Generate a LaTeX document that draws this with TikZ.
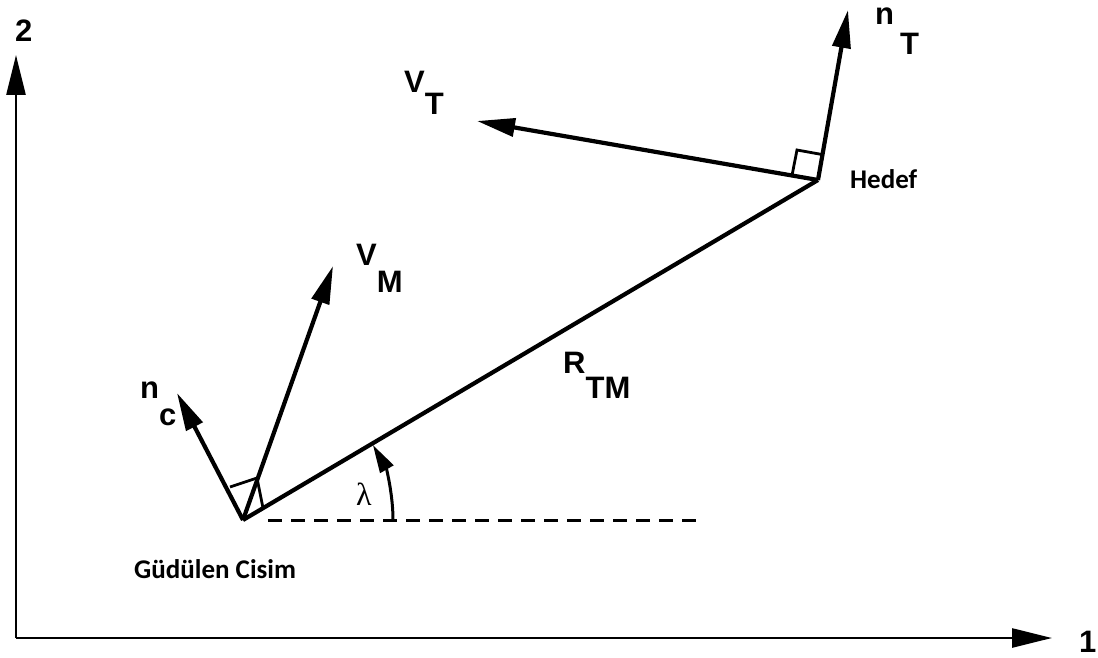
\documentclass[tikz,border=0pt]{standalone}
\usepackage{fontspec}
\setmainfont{Liberation Sans}
\newfontfamily\calib{Carlito}
\newfontfamily\greekserif{Liberation Serif}
\usetikzlibrary{arrows.meta,calc}
\tikzset{
  vec/.style={line width=4.2pt, -{Triangle[length=38pt,width=18pt]}},
  axis/.style={line width=2.6pt, -{Triangle[length=40pt,width=19pt]}},
  lab/.style={anchor=base west, inner sep=0pt, font=\bfseries\fontsize{31}{36}\selectfont},
  place/.style={anchor=base west, inner sep=0pt, font=\calib\bfseries\fontsize{27}{32}\selectfont},
  rightmark/.style={line width=2.8pt},
}
\begin{document}
\begin{tikzpicture}[x=1pt,y=-1pt]
\useasboundingbox[fill=white] (0,0) rectangle (1098,658);
% axes
\coordinate (O) at (16,638);
\coordinate (Y) at (16,55);
\coordinate (X) at (1052,638);
\draw[axis] (O) -- (Y);
\draw[axis] (O) -- (X);
\node[lab] (l2) at (15,42) {2};
\node[lab] (l1) at (1079,652) {1};
% points
\coordinate (M) at (243,520);
\coordinate (T) at (818,180);
\coordinate (nc) at (177,393);
\coordinate (VM) at (333,266);
\coordinate (VT) at (477,121);
\coordinate (nT) at (848,10);
\coordinate (D) at (700,520);
% line of sight
\draw[line width=4.2pt] (M) -- (T);
\draw[line width=3pt, dash pattern=on 14pt off 9pt] ($(M)+(25,0)$) coordinate (Ds) -- (D);
% vectors
\draw[vec] (M) -- (nc);
\draw[vec] (M) -- (VM);
\draw[vec] (T) -- (VT);
\draw[vec] (T) -- (nT);
% right-angle marks
\draw[rightmark] (263,508) -- (257,478) -- (230,487);
\draw[rightmark] (792,175.5) -- (797,150) -- (822,154.5);
% lambda arc
\draw[line width=3pt, -{Triangle[length=28pt,width=15pt]}] (393,520) arc[start angle=0, end angle=-30, radius=150];
\node[anchor=base west, inner sep=0pt, font=\greekserif\fontsize{32}{36}\selectfont] (lam) at (356,505) {λ};
% labels
\node[lab] (lVT) at (404,93) {V\raisebox{-22pt}{T}};
\node[lab] (lnT) at (875,25) {n\hspace{6pt}\raisebox{-30pt}{T}};
\node[lab] (lVM) at (356,265) {V\raisebox{-27pt}{M}};
\node[lab] (lR) at (563,373) {R\raisebox{-25pt}{TM}};
\node[lab] (lnc) at (140,398) {n\raisebox{-27pt}{c}};
\node[place] (hedef) at (850,188) {Hedef};
\node[place] (gud) at (134,578) {Güdülen Cisim};
\end{tikzpicture}
\end{document}
